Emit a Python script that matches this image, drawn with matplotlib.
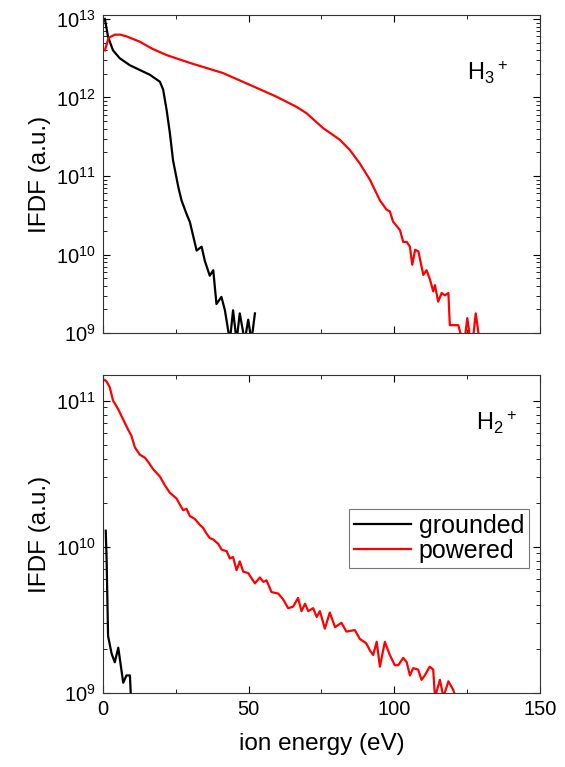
import numpy as np
import matplotlib; matplotlib.use("Agg")
import matplotlib.pyplot as plt
from matplotlib.ticker import MultipleLocator, LogLocator, NullFormatter

plt.rcParams['font.family'] = ['Liberation Sans', 'DejaVu Sans']
plt.rcParams['mathtext.fontset'] = 'custom'
plt.rcParams['mathtext.rm'] = 'Liberation Sans'
plt.rcParams['mathtext.it'] = 'Liberation Sans:italic'

# H3+ panel (log10 of IFDF)
h3_grounded_E = [0.7, 1.8, 3.5, 5.8, 9.3, 12.7, 16.1, 19.6, 20.7, 21.9, 23.0, 24.1, 25.9, 27.0,
                 28.7, 29.9, 32.2, 33.9, 35.0, 36.7, 37.9, 39.0, 40.7, 41.9, 43.6, 44.7, 45.9,
                 47.0, 48.7, 49.9, 51.0, 52.2]
h3_grounded_log = [13.0, 12.77, 12.6, 12.5, 12.41, 12.35, 12.29, 12.2, 12.1, 11.84, 11.55, 11.2,
                   10.86, 10.69, 10.52, 10.41, 10.05, 10.1, 9.92, 9.73, 9.8, 9.37, 9.46, 9.29,
                   8.9, 9.29, 8.9, 9.25, 8.9, 9.17, 8.9, 9.25]
h3_powered_E = [0.7, 2.0, 4.1, 6.0, 8.0, 12.7, 17.0, 21.9, 29.9, 41.3, 50.5, 59.6, 66.5, 69.9,
                75.6, 79.1, 81.4, 84.8, 88.2, 91.7, 95.1, 97.4, 98.5, 99.6, 102.0, 103.1, 104.3,
                105.4, 106.2, 107.2, 108.3, 110.0, 111.1, 112.3, 113.4, 114.0, 115.1, 116.3,
                117.4, 118.6, 119.1, 122.0, 123.1, 124.3, 125.1, 126.0, 127.1, 128.0, 129.1]
h3_powered_log = [12.6, 12.76, 12.8, 12.8, 12.78, 12.71, 12.62, 12.54, 12.44, 12.31, 12.16,
                  12.01, 11.88, 11.80, 11.61, 11.52, 11.46, 11.33, 11.16, 10.95, 10.69, 10.57,
                  10.55, 10.42, 10.31, 10.16, 10.16, 10.10, 9.87, 10.06, 10.04, 9.74, 9.80,
                  9.68, 9.53, 9.61, 9.40, 9.51, 9.48, 9.51, 9.10, 9.10, 8.95, 8.95, 9.19, 8.95,
                  8.95, 9.25, 8.95]

# H2+ panel
h2_grounded_E = [1.0, 1.3, 1.8, 3.0, 4.1, 5.3, 7.0, 8.1, 9.3, 9.8]
h2_grounded_log = [10.11, 9.91, 9.39, 9.27, 9.21, 9.31, 9.07, 9.12, 9.12, 8.9]
h2_powered_E = [0.7, 1.3, 2.4, 3.5, 5.3, 7.0, 8.7, 9.8, 11.0, 12.7, 14.4, 15.6, 17.3, 19.6,
                21.3, 23.0, 25.3, 26.4, 27.6, 28.7, 29.9, 31.6, 33.3, 34.4, 35.6, 36.7, 37.9,
                39.6, 40.8, 42.5, 43.6, 44.7, 45.9, 47.0, 48.2, 49.9, 52.2, 53.9, 55.1, 56.2,
                57.9, 60.2, 61.9, 63.6, 65.3, 67.0, 68.2, 69.4, 70.5, 72.2, 73.4, 74.5, 76.2,
                77.9, 79.7, 81.9, 83.6, 86.5, 88.2, 90.4, 91.7, 92.8, 94.0, 95.1, 96.8, 98.5,
                100.2, 101.4, 103.1, 104.3, 105.4, 106.5, 108.2, 109.4, 110.5, 112.2, 113.4,
                114.0, 115.7, 116.9, 118.6, 120.3, 121.4]
h2_powered_log = [11.14, 11.13, 11.09, 11.0, 10.94, 10.87, 10.80, 10.76, 10.68, 10.63, 10.61,
                  10.58, 10.53, 10.48, 10.42, 10.37, 10.33, 10.29, 10.25, 10.26, 10.21, 10.19,
                  10.15, 10.13, 10.09, 10.06, 10.05, 10.02, 9.98, 9.97, 9.92, 9.93, 9.84, 9.90,
                  9.83, 9.82, 9.75, 9.79, 9.76, 9.77, 9.69, 9.68, 9.64, 9.58, 9.59, 9.65, 9.56,
                  9.61, 9.56, 9.58, 9.52, 9.56, 9.44, 9.55, 9.45, 9.48, 9.42, 9.43, 9.37, 9.34,
                  9.29, 9.26, 9.35, 9.18, 9.35, 9.26, 9.19, 9.19, 9.24, 9.21, 9.12, 9.17, 9.16,
                  9.09, 9.12, 9.18, 9.16, 8.97, 9.09, 8.97, 9.08, 9.02, 8.95]

fig = plt.figure(figsize=(5.65, 7.67), dpi=100)
ax1 = fig.add_axes([0.182, 0.5658, 0.7735, 0.4146])
ax2 = fig.add_axes([0.182, 0.0965, 0.7735, 0.4146])

ax1.plot(h3_grounded_E, 10**np.array(h3_grounded_log), color='black', lw=1.6)
ax1.plot(h3_powered_E, 10**np.array(h3_powered_log), color='#ff0000', lw=1.6)
ax2.plot(h2_grounded_E, 10**np.array(h2_grounded_log), color='black', lw=1.6, label='grounded')
ax2.plot(h2_powered_E, 10**np.array(h2_powered_log), color='#ff0000', lw=1.6, label='powered')

ax1.set_ylim(1e9, 10**13.05)
ax2.set_ylim(1e9, 10**11.175)

for ax in (ax1, ax2):
    ax.set_yscale('log')
    ax.set_xlim(0, 150)
    ax.xaxis.set_major_locator(MultipleLocator(50))
    ax.xaxis.set_minor_locator(MultipleLocator(25))
    ax.yaxis.set_major_locator(LogLocator(base=10, numticks=10))
    ax.yaxis.set_minor_locator(LogLocator(base=10, subs=np.arange(2, 10), numticks=20))
    ax.yaxis.set_minor_formatter(NullFormatter())
    ax.tick_params(which='both', direction='in', top=True, right=True, labelsize=14.5, pad=5)
    ax.tick_params(which='major', length=5)
    ax.tick_params(which='minor', length=3)
    for s in ax.spines.values():
        s.set_color('#333333')
    ax.set_ylabel('IFDF (a.u.)', fontsize=17.5, labelpad=4)

ax1.tick_params(labelbottom=False)
ax2.set_xlabel('ion energy (eV)', fontsize=17.5, labelpad=10)

ax1.text(0.88, 0.82, r'H$_3{}^+$', transform=ax1.transAxes, fontsize=17, ha='center', va='center')
ax2.text(0.90, 0.85, r'H$_2{}^+$', transform=ax2.transAxes, fontsize=17, ha='center', va='center')

leg = ax2.legend(loc='upper right', bbox_to_anchor=(0.975, 0.58), fontsize=18, frameon=True,
                 fancybox=False, edgecolor='#555555', handlelength=2.3, handletextpad=0.3,
                 borderpad=0.2, labelspacing=0.05, borderaxespad=0)
leg.get_frame().set_linewidth(0.8)

fig.savefig('out.png', dpi=100, facecolor='white')
